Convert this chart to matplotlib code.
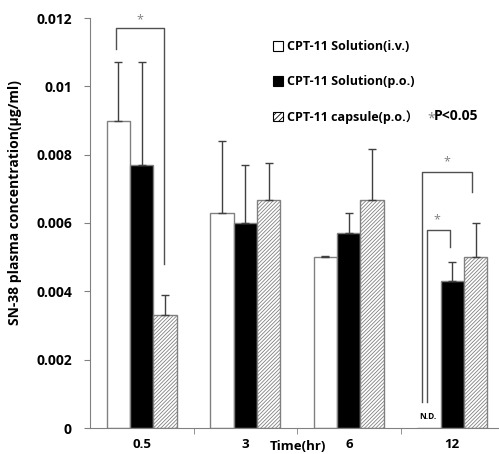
import matplotlib.pyplot as plt
import numpy as np
from matplotlib.patches import Patch

plt.rcParams['font.family'] = ['Open Sans', 'Noto Sans CJK JP', 'DejaVu Sans']
plt.rcParams['hatch.linewidth'] = 0.6

# Data
times = ['0.5', '3', '6', '12']
iv_mean = [0.0090, 0.0063, 0.0050, 0.0]
iv_err = [0.0017, 0.0021, 0.00003, 0.0]
po_mean = [0.0077, 0.0060, 0.0057, 0.0043]
po_err = [0.0030, 0.0017, 0.0006, 0.00056]
cap_mean = [0.0033, 0.00667, 0.00667, 0.0050]
cap_err = [0.0006, 0.0011, 0.0015, 0.0010]
labels = ['CPT-11 Solution(i.v.)', 'CPT-11 Solution(p.o.)', 'CPT-11 capsule(p.o.）']

fig = plt.figure(figsize=(4.99, 4.54), dpi=100)
ax = fig.add_axes([90/499, 26/454, 414/499, 410/454])

x = np.arange(len(times))
w = 0.227
edge = '#808080'

ax.bar(x - w, iv_mean, w, color='white', edgecolor=edge, linewidth=1, zorder=2)
ax.bar(x, po_mean, w, color='black', edgecolor=edge, linewidth=1, zorder=2)
ax.bar(x + w, cap_mean, w, color='white', edgecolor=edge, hatch='/////////', linewidth=1, zorder=2)

ax.errorbar(x[:3] - w, iv_mean[:3], yerr=[[0]*3, iv_err[:3]], fmt='none',
            ecolor='#404040', elinewidth=1, capsize=3, zorder=3)
ax.errorbar(x, po_mean, yerr=[[0]*4, po_err], fmt='none',
            ecolor='#404040', elinewidth=1, capsize=3, zorder=3)
ax.errorbar(x + w, cap_mean, yerr=[[0]*4, cap_err], fmt='none',
            ecolor='#404040', elinewidth=1, capsize=3, zorder=3)

# significance brackets
bc = '#505050'
ax.plot([-0.25, -0.25, 0.215, 0.215], [0.0111, 0.0117, 0.0117, 0.0048], color=bc, lw=1)
ax.text(-0.02, 0.01175, '*', ha='center', va='bottom', fontsize=9, color='gray')
ax.plot([2.71, 2.71, 3.195, 3.195], [0.00075, 0.0075, 0.0075, 0.0069], color=bc, lw=1)
ax.text(2.95, 0.0076, '*', ha='center', va='bottom', fontsize=9, color='gray')
ax.plot([2.76, 2.76, 2.975, 2.975], [0.00075, 0.0058, 0.0058, 0.0053], color=bc, lw=1)
ax.text(2.85, 0.0059, '*', ha='center', va='bottom', fontsize=9, color='gray')
ax.text(2.76, 0.0002, 'N.D.', ha='center', va='bottom', fontsize=6, fontweight='bold')

ax.set_xlim(-0.5, 3.5)
ax.set_ylim(0, 0.012)
ax.set_yticks([0, 0.002, 0.004, 0.006, 0.008, 0.01, 0.012])
ax.set_yticklabels(['0', '0.002', '0.004', '0.006', '0.008', '0.01', '0.012'],
                   fontsize=10, fontweight='bold')
ax.set_xticks(x)
ax.set_xticklabels(times, fontsize=9.5, fontweight='bold')
ax.set_xticks([0.5, 1.5, 2.5], minor=True)
ax.tick_params(axis='x', which='major', length=0, pad=7)
ax.tick_params(axis='x', which='minor', length=4, color=edge)
ax.tick_params(axis='y', length=4, color=edge, pad=9)
for s in ['top', 'right']:
    ax.spines[s].set_visible(False)
ax.spines['left'].set_color(edge)
ax.spines['bottom'].set_color(edge)

fig.text(298/499, 1 - 446/454, 'Time(hr)', ha='center', va='center', fontsize=9.5, fontweight='bold')
fig.text(15/499, 1 - 203/454, 'SN-38 plasma concentration(μg/ml)', rotation=90,
         ha='center', va='center', fontsize=10, fontweight='bold')

handles = [Patch(facecolor='white', edgecolor='black', linewidth=0.8),
           Patch(facecolor='black', edgecolor='black', linewidth=0.8),
           Patch(facecolor='white', edgecolor='black', hatch='//////', linewidth=0.8)]
fig.legend(handles, labels, loc='upper left', bbox_to_anchor=(262/499, 1 - 29/454),
           frameon=False, handlelength=0.8, handleheight=0.8, handletextpad=0.3,
           labelspacing=1.75, prop={'size': 9, 'weight': 'bold'})
fig.text(427/499, 1 - 119/454, '*', ha='left', va='center', fontsize=10, color='gray')
fig.text(434/499, 1 - 116/454, 'P<0.05', ha='left', va='center', fontsize=10, fontweight='bold')

fig.savefig('out.png', dpi=100)
